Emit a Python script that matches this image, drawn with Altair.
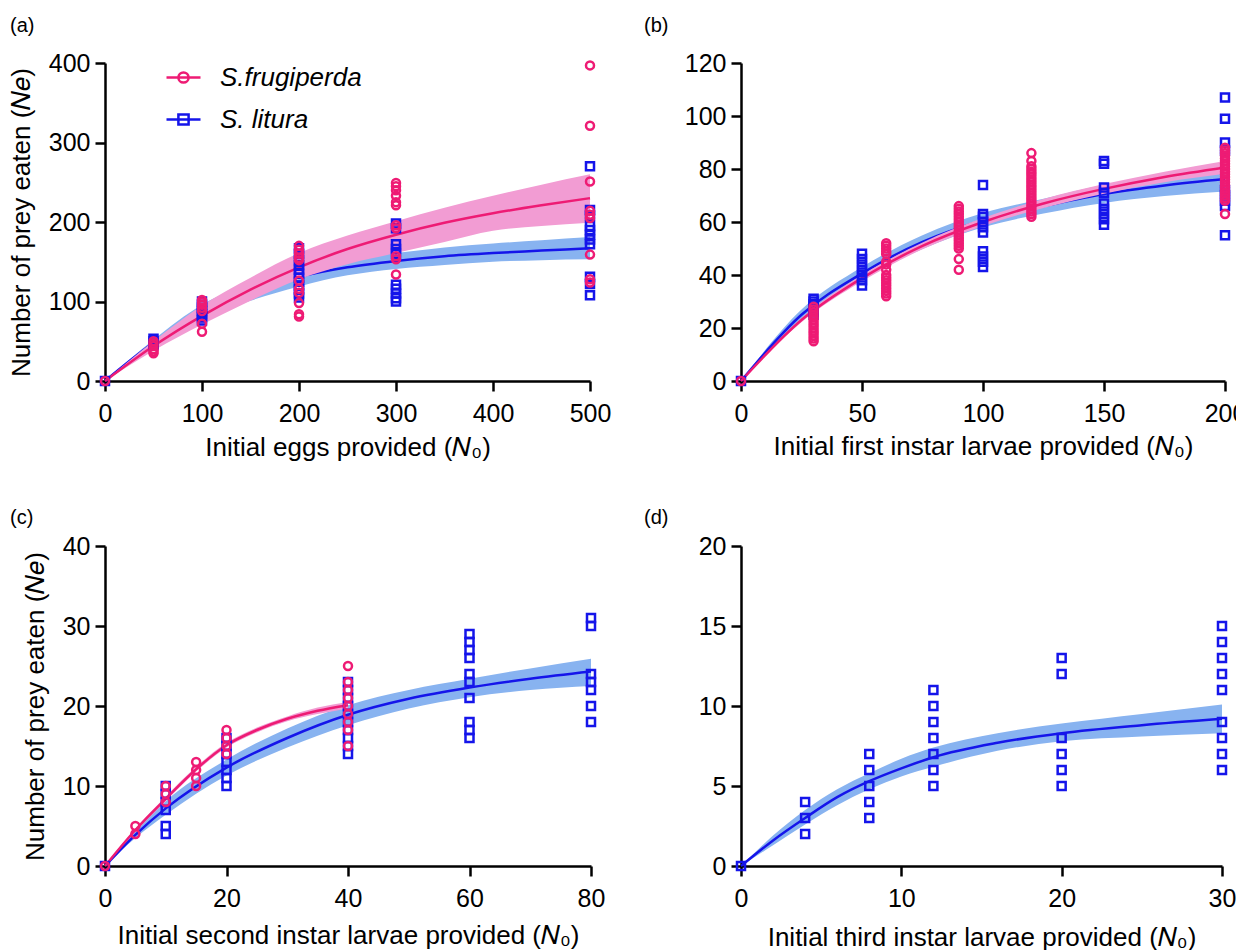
import altair as alt
import pandas as pd

FONT = "Liberation Sans"
PINK = "#EE1B74"
BLUE = "#1515EA"
PINK_BAND = "#F29CD3"
BLUE_BAND = "#88B3F0"
SF = "S.frugiperda"
SL = "S. litura"

# ---------------- panel (a): eggs ----------------
a_sf_pts = {0: [0], 50: [50, 47, 44, 40, 37, 35], 100: [102, 99, 96, 92, 88, 72, 62],
            200: [170, 165, 160, 155, 152, 126, 116, 111, 98, 84, 81],
            300: [249, 245, 240, 233, 225, 221, 196, 192, 157, 153, 134],
            500: [397, 321, 251, 214, 209, 205, 159, 128, 124]}
a_sl_pts = {0: [0], 50: [53, 50, 47, 45], 100: [100, 96, 92, 88, 84, 80, 76],
            200: [167, 160, 152, 146, 140, 135, 130, 125, 120, 115, 110, 105],
            300: [198, 192, 172, 166, 160, 121, 116, 110, 104, 100],
            500: [270, 215, 208, 195, 190, 184, 178, 172, 131, 122, 108]}
a_curve_x = [0, 50, 100, 150, 200, 250, 300, 350, 400, 450, 500]
a_sf_fit = [0, 44, 82, 115, 143, 166, 184, 199, 211, 221, 230]
a_sf_lo = [0, 38, 71, 101, 128, 147, 161, 175, 189, 195, 199]
a_sf_hi = [0, 50, 95, 130, 161, 183, 201, 218, 233, 247, 260]
a_sl_fit = [0, 48, 86, 112, 131, 143, 151, 157, 161, 164, 167]
a_sl_lo = [0, 45, 78, 101, 119, 133, 141, 146, 150, 152, 153]
a_sl_hi = [0, 52, 96, 123, 142, 153, 161, 168, 173, 177, 181]

# ---------------- panel (b): first instar ----------------
b_sf_pts = {0: [0], 30: [28, 27, 26, 25, 24, 23, 22, 21, 20, 19, 18, 17, 16, 15],
            60: [52, 51, 50, 49, 48, 45, 44, 42, 40, 39, 38, 37, 36, 35, 34, 33, 32],
            90: [66, 65, 64, 63, 62, 61, 60, 59, 58, 57, 56, 55, 54, 53, 52, 51, 50, 46, 42],
            120: [86, 83, 81, 80, 79, 78, 77, 76, 75, 74, 73, 72, 71, 70, 69, 68, 67, 66, 65, 64, 63, 62],
            200: [88, 87, 86, 85, 84, 83, 82, 81, 80, 79, 78, 77, 76, 75, 74, 73, 72, 71, 70, 69, 68, 63]}
b_sl_pts = {0: [0], 30: [31, 30, 29, 28, 27, 26, 25], 50: [48, 46, 44, 42, 40, 38, 36],
            100: [74, 63, 62, 60, 58, 56, 49, 47, 45, 43],
            150: [83, 82, 73, 71, 67, 65, 63, 61, 59],
            200: [107, 99, 90, 87, 72, 70, 68, 66, 55]}
b_curve_x = [0, 25, 50, 75, 100, 125, 150, 175, 200]
b_sf_fit = [0, 23, 38.8, 51, 60, 67, 72.5, 77, 80.6]
b_sf_lo = [0, 22.2, 37.6, 49.7, 58.5, 65.3, 70.7, 75, 78.2]
b_sf_hi = [0, 23.8, 40, 52.3, 61.5, 68.7, 74.3, 79, 83]
b_sl_fit = [0, 25, 40.6, 52.5, 60.6, 66, 70.6, 73.8, 76.2]
b_sl_lo = [0, 23, 38.3, 49.8, 58, 63.2, 67.2, 69.8, 71.5]
b_sl_hi = [0, 27, 43, 55, 63.4, 68.8, 74, 77, 79.5]

# ---------------- panel (c): second instar ----------------
c_sf_pts = {0: [0], 5: [5, 4], 10: [10, 9, 8], 15: [13, 12, 11, 10], 20: [17, 16, 15, 14],
            40: [25, 23, 22, 21, 20, 19, 18, 17, 15]}
c_sl_pts = {0: [0], 10: [10, 9, 8, 7, 5, 4], 20: [16, 15, 14, 13, 12, 11, 10],
            40: [23, 22, 21, 20, 19, 18, 17, 16, 15, 14],
            60: [29, 28, 27, 26, 24, 23, 21, 18, 17, 16],
            80: [31, 30, 24, 23, 22, 20, 18]}
c_sf_curve_x = [0, 5, 10, 15, 20, 25, 30, 35, 40]
c_sf_fit = [0, 4.5, 8.4, 12.1, 15.1, 17.0, 18.4, 19.4, 20.1]
c_sf_lo = [0, 4.3, 8.1, 11.8, 14.8, 16.7, 18.1, 19.0, 19.7]
c_sf_hi = [0, 4.7, 8.7, 12.4, 15.4, 17.3, 18.7, 19.8, 20.5]
c_sl_curve_x = [0, 5, 10, 20, 30, 40, 50, 60, 70, 80]
c_sl_fit = [0, 3.9, 7.2, 12.3, 16.0, 18.9, 20.9, 22.3, 23.4, 24.3]
c_sl_lo = [0, 3.5, 6.4, 11.3, 14.8, 17.6, 19.7, 21.1, 22.0, 22.5]
c_sl_hi = [0, 4.3, 8.1, 13.3, 17.2, 20.1, 22.0, 23.4, 24.7, 25.9]

# ---------------- panel (d): third instar ----------------
d_sl_pts = {0: [0], 4: [4, 3, 2], 8: [7, 6, 5, 4, 3], 12: [11, 10, 9, 8, 7, 6, 5],
            20: [13, 12, 8, 7, 6, 5], 30: [15, 14, 13, 12, 11, 9, 8, 7, 6]}
d_curve_x = [0, 2, 4, 6, 8, 10, 12, 16, 20, 25, 30]
d_sl_fit = [0, 1.6, 3.0, 4.3, 5.3, 6.1, 6.8, 7.7, 8.3, 8.8, 9.2]
d_sl_lo = [0, 1.3, 2.6, 3.8, 4.8, 5.6, 6.2, 7.2, 7.8, 8.1, 8.3]
d_sl_hi = [0, 1.9, 3.5, 4.8, 5.8, 6.7, 7.4, 8.3, 8.9, 9.5, 10.1]

LEG_CIRCLE = "M-1,0L1,0M0.3,0A0.3,0.3,0,1,1,-0.3,0A0.3,0.3,0,1,1,0.3,0Z"
LEG_SQUARE = "M-1,0L1,0M-0.3,-0.3L0.3,-0.3L0.3,0.3L-0.3,0.3Z"


def pts_df(d):
    rows = [(x, y) for x, ys in d.items() for y in ys]
    return pd.DataFrame(rows, columns=["x", "y"])


def curve_df(xs, fit, lo, hi):
    return pd.DataFrame({"x": xs, "y": fit, "lo": lo, "hi": hi})


def panel(label, xdom, xticks, ydom, yticks, xtitle, ytitle, w, h,
          sl_pts, sl_curve, sf_pts=None, sf_curve=None, legend=False,
          title_dx=-95, title_offset=-1, x_title_pad=9):
    xs = alt.Scale(domain=xdom, nice=False, zero=False)
    ys = alt.Scale(domain=ydom, nice=False, zero=False)
    xa = alt.Axis(values=xticks, title=xtitle, format="d", titlePadding=x_title_pad)
    ya = alt.Axis(values=yticks, title=ytitle, format="d")
    X = alt.X("x:Q", scale=xs, axis=xa)
    Y = alt.Y("y:Q", scale=ys, axis=ya)
    layers = []
    layers.append(alt.Chart(sl_curve).mark_area(color=BLUE_BAND, opacity=1, interpolate="monotone")
                  .encode(x=X, y=alt.Y("lo:Q", scale=ys, axis=ya), y2="hi:Q"))
    layers.append(alt.Chart(sl_curve).mark_line(color=BLUE, strokeWidth=2.5, interpolate="monotone")
                  .encode(x=X, y=Y))
    if sf_curve is not None:
        layers.append(alt.Chart(sf_curve).mark_area(color=PINK_BAND, opacity=1, interpolate="monotone")
                      .encode(x=X, y=alt.Y("lo:Q", scale=ys, axis=ya), y2="hi:Q"))
        layers.append(alt.Chart(sf_curve).mark_line(color=PINK, strokeWidth=2.5, interpolate="monotone")
                      .encode(x=X, y=Y))
    layers.append(alt.Chart(sl_pts).mark_point(shape="square", filled=False, size=64, strokeWidth=2.5,
                                               opacity=1, color=BLUE).encode(x=X, y=Y))
    if sf_pts is not None:
        layers.append(alt.Chart(sf_pts).mark_point(shape="circle", filled=False, size=64, strokeWidth=2.5,
                                                   opacity=1, color=PINK).encode(x=X, y=Y))
    if legend:
        leg_df = pd.DataFrame({"x": pd.Series([], dtype=float), "y": pd.Series([], dtype=float),
                               "species": pd.Series([], dtype=str)})
        lg = alt.Legend(title=None, orient="none", legendX=60, legendY=-4, direction="vertical",
                        symbolSize=1156, symbolStrokeWidth=2.5, symbolOpacity=1,
                        labelFont=FONT, labelFontSize=26, labelFontStyle="italic", labelColor="black",
                        labelOffset=18, rowPadding=10, padding=0)
        layers.append(alt.Chart(leg_df).mark_point(filled=False, strokeWidth=2.5, opacity=1).encode(
            x=X, y=Y,
            color=alt.Color("species:N", scale=alt.Scale(domain=[SF, SL], range=[PINK, BLUE]), legend=lg),
            shape=alt.Shape("species:N", scale=alt.Scale(domain=[SF, SL], range=[LEG_CIRCLE, LEG_SQUARE]),
                            legend=lg)))
    title = alt.TitleParams(label, anchor="start", frame="group", dx=title_dx, offset=title_offset,
                            fontSize=20, font=FONT, fontWeight="normal", baseline="alphabetic",
                            color="black")
    return alt.layer(*layers).properties(width=w, height=h, title=title)


XT_A = "Initial eggs provided (\U0001D441\u2080)"
XT_B = "Initial first instar larvae provided (\U0001D441\u2080)"
XT_C = "Initial second instar larvae provided (\U0001D441\u2080)"
XT_D = "Initial third instar larvae provided (\U0001D441\u2080)"
YT = "Number of prey eaten (\U0001D441\U0001D452)"

pa = panel("(a)", [0, 500], [0, 100, 200, 300, 400, 500], [0, 400], [0, 100, 200, 300, 400],
           XT_A, YT, 485, 318, pts_df(a_sl_pts), curve_df(a_curve_x, a_sl_fit, a_sl_lo, a_sl_hi),
           pts_df(a_sf_pts), curve_df(a_curve_x, a_sf_fit, a_sf_lo, a_sf_hi), legend=True,
           title_dx=-95, title_offset=-1, x_title_pad=8)
pb = panel("(b)", [0, 200], [0, 50, 100, 150, 200], [0, 120], [0, 20, 40, 60, 80, 100, 120],
           XT_B, None, 484, 318, pts_df(b_sl_pts), curve_df(b_curve_x, b_sl_fit, b_sl_lo, b_sl_hi),
           pts_df(b_sf_pts), curve_df(b_curve_x, b_sf_fit, b_sf_lo, b_sf_hi),
           title_dx=-97, title_offset=-1, x_title_pad=7)
pc = panel("(c)", [0, 80], [0, 20, 40, 60, 80], [0, 40], [0, 10, 20, 30, 40],
           XT_C, YT, 486, 320, pts_df(c_sl_pts), curve_df(c_sl_curve_x, c_sl_fit, c_sl_lo, c_sl_hi),
           pts_df(c_sf_pts), curve_df(c_sf_curve_x, c_sf_fit, c_sf_lo, c_sf_hi),
           title_dx=-95, title_offset=-10, x_title_pad=11)
pd_ = panel("(d)", [0, 30], [0, 10, 20, 30], [0, 20], [0, 5, 10, 15, 20],
            XT_D, None, 481, 320, pts_df(d_sl_pts), curve_df(d_curve_x, d_sl_fit, d_sl_lo, d_sl_hi),
            title_dx=-97, title_offset=-10, x_title_pad=13)

chart = alt.concat(pa, pb, pc, pd_, columns=2, spacing=alt.RowColnumber(row=165, column=150),
                   bounds="flush").resolve_scale(
    color="independent", shape="independent"
).configure_view(stroke=None).configure_axis(
    grid=False, domainColor="black", domainWidth=2.5, tickColor="black", tickWidth=2.5, tickSize=10,
    labelFont=FONT, labelFontSize=25, labelColor="black", labelFlush=False,
    titleFont=FONT, titleFontSize=26, titleFontWeight="normal", titleColor="black",
).configure_axisX(labelPadding=10).configure_axisY(titlePadding=14, labelPadding=5).properties(
    padding={"left": 0, "top": 8, "right": -10, "bottom": 0}
)

chart.save("out.html", embed_options={"renderer": "svg", "actions": False})
